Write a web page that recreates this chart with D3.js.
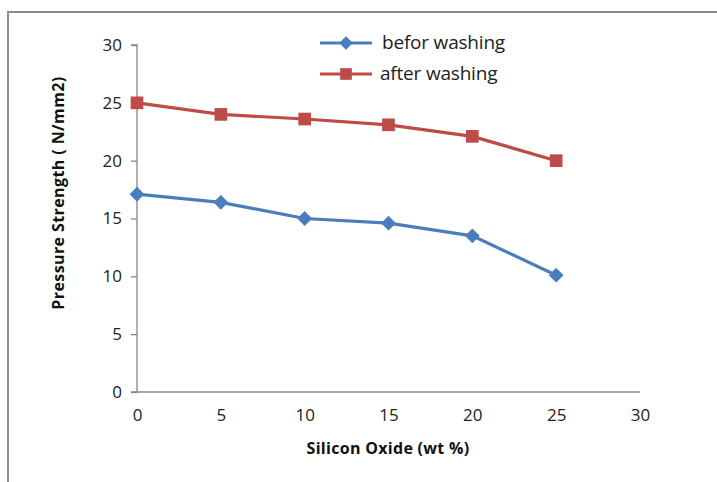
<!DOCTYPE html>
<html>
<head>
<meta charset="utf-8">
<script src="https://cdn.jsdelivr.net/npm/d3@7"></script>
<style>
  body { margin: 0; background: #fff; }
  text { font-family: "Open Sans", sans-serif; }
</style>
</head>
<body>
<svg width="717" height="482"></svg>
<script>
// chart data
var silica = [0, 5, 10, 15, 20, 25];
var beforWashing = [17.1, 16.4, 15.0, 14.6, 13.5, 10.1];
var afterWashing = [25.0, 24.0, 23.6, 23.1, 22.1, 20.0];
var xTicks = [0, 5, 10, 15, 20, 25, 30];
var yTicks = [0, 5, 10, 15, 20, 25, 30];

var svg = d3.select("svg");

// outer frame
svg.append("path")
  .attr("d", "M8,482 V12 H717")
  .attr("fill", "none")
  .attr("stroke", "#8c8c8c")
  .attr("stroke-width", 2);

var x = d3.scaleLinear().domain([0, 30]).range([137, 640]);
var y = d3.scaleLinear().domain([0, 30]).range([392, 45]);

// y axis
var yAxis = svg.append("g")
  .attr("transform", "translate(137,0)")
  .call(d3.axisLeft(y).tickValues(yTicks).tickSize(6).tickPadding(9));
yAxis.select(".domain").attr("stroke", "#868686").attr("stroke-width", 1.3)
  .attr("d", "M-6," + y(30) + "H0V" + y(0));
yAxis.selectAll(".tick line").attr("stroke", "#868686").attr("stroke-width", 1.3);
yAxis.selectAll(".tick text").attr("font-size", 17).attr("fill", "#222");

// x axis (no tick marks)
var xAxis = svg.append("g")
  .attr("transform", "translate(0," + y(0) + ")")
  .call(d3.axisBottom(x).tickValues(xTicks).tickSize(0).tickPadding(17));
xAxis.select(".domain").attr("stroke", "#868686").attr("stroke-width", 1.3)
  .attr("d", "M131,0H640");
xAxis.selectAll(".tick text").attr("font-size", 17).attr("fill", "#222");

// axis titles
svg.append("text")
  .attr("x", 388).attr("y", 454)
  .attr("text-anchor", "middle")
  .attr("font-size", 16).attr("font-weight", "bold")
  .attr("letter-spacing", 0.3)
  .attr("fill", "#111")
  .text("Silicon  Oxide (wt %)");

svg.append("text")
  .attr("transform", "translate(64,193) rotate(-90)")
  .attr("text-anchor", "middle")
  .attr("font-size", 16).attr("font-weight", "bold")
  .attr("letter-spacing", 0.4)
  .attr("fill", "#111")
  .text("Pressure Strength ( N/mm2)");

// diamond = square turned 45 degrees
var series = [
  { name: "befor washing", values: beforWashing, color: "#4a7ebb", size: 110, rot: 45 },
  { name: "after washing", values: afterWashing, color: "#be4b48", size: 160, rot: 0 }
];

var line = d3.line()
  .x(function (d, i) { return x(silica[i]); })
  .y(function (d) { return y(d); });

series.forEach(function (s) {
  svg.append("path")
    .datum(s.values)
    .attr("d", line)
    .attr("fill", "none")
    .attr("stroke", s.color)
    .attr("stroke-width", 3.2);

  svg.selectAll(null)
    .data(s.values)
    .enter()
    .append("path")
    .attr("d", d3.symbol().type(d3.symbolSquare).size(s.size))
    .attr("transform", function (d, i) {
      return "translate(" + x(silica[i]) + "," + y(d) + ") rotate(" + s.rot + ")";
    })
    .attr("fill", s.color);
});

// legend
var legend = svg.append("g");
series.forEach(function (s, i) {
  var ly = 43 + i * 31;
  legend.append("line")
    .attr("x1", 320).attr("x2", 372)
    .attr("y1", ly).attr("y2", ly)
    .attr("stroke", s.color).attr("stroke-width", 3.2);
  legend.append("path")
    .attr("d", d3.symbol().type(d3.symbolSquare).size(s.size * 0.85))
    .attr("transform", "translate(346," + ly + ") rotate(" + s.rot + ")")
    .attr("fill", s.color);
  legend.append("text")
    .attr("x", i === 0 ? 382 : 380).attr("y", ly + 6)
    .attr("font-size", 19)
    .attr("letter-spacing", -0.2)
    .attr("fill", "#222")
    .text(s.name);
});
</script>
</body>
</html>
